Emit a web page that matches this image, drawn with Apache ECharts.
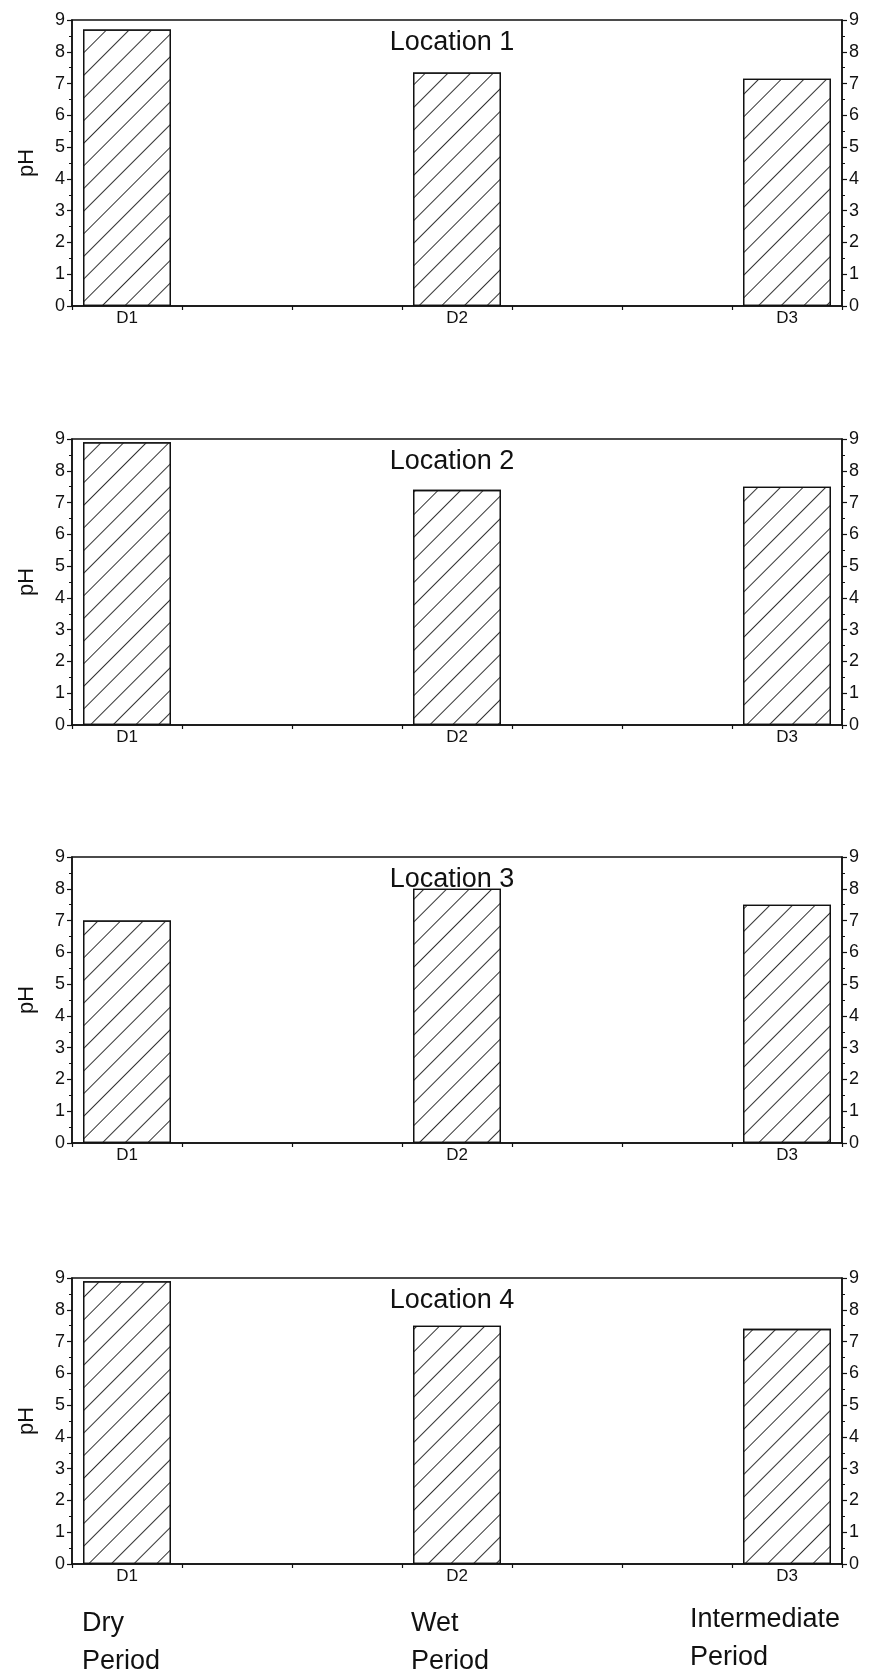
<!DOCTYPE html>
<html>
<head>
<meta charset="utf-8">
<script src="https://cdn.jsdelivr.net/npm/echarts@6/dist/echarts.min.js"></script>
<style>
  html, body { margin: 0; padding: 0; background: #fff; }
  #chart { width: 869px; height: 1677px; }
</style>
</head>
<body>
<div id="chart"></div>
<script>
// ---- data ----
var categories = ['D1', 'D2', 'D3'];
var locations = ['Location 1', 'Location 2', 'Location 3', 'Location 4'];
var loc1 = [8.7, 7.35, 7.15];
var loc2 = [8.9, 7.4, 7.5];
var loc3 = [7.0, 8.0, 7.5];
var loc4 = [8.9, 7.5, 7.4];
var yTicks = [0, 1, 2, 3, 4, 5, 6, 7, 8, 9];
var periodLabels = ['Dry\nPeriod', 'Wet\nPeriod', 'Intermediate\nPeriod'];
var yAxisName = 'pH';

var allValues = [loc1, loc2, loc3, loc4];

// ---- layout ----
var FONT = '"Liberation Sans", Arial, sans-serif';
var gridTops = [20, 439, 857, 1278];
var gridHeight = 286;
var gridLeft = 72, gridRight = 27;
var EMPTY_SLOTS = 2; // blank slots between displayed categories

// build x-axis slots from categories
var slotCats = [];
categories.forEach(function (c, i) {
  slotCats.push(c);
  if (i < categories.length - 1) for (var k = 0; k < EMPTY_SLOTS; k++) slotCats.push('');
});
function slotData(vals) {
  var out = [];
  vals.forEach(function (v, i) {
    out.push(v);
    if (i < vals.length - 1) for (var k = 0; k < EMPTY_SLOTS; k++) out.push(null);
  });
  return out;
}

var grids = [], xAxes = [], yAxes = [], series = [], graphics = [];
var LINE = '#111';

allValues.forEach(function (vals, i) {
  grids.push({
    left: gridLeft, right: gridRight, top: gridTops[i], height: gridHeight,
    show: true, borderColor: LINE, borderWidth: 1.5, backgroundColor: '#fff'
  });
  xAxes.push({
    type: 'category', gridIndex: i, data: slotCats,
    boundaryGap: true,
    axisLine: { show: true, lineStyle: { color: LINE, width: 1.5 } },
    axisTick: { show: true, interval: 0, length: 4, lineStyle: { color: LINE, width: 1.2 } },
    axisLabel: { interval: 0, color: '#111', fontFamily: FONT, fontSize: 17, margin: 4 },
    splitLine: { show: false }
  });
  var yBase = {
    type: 'value', gridIndex: i, min: yTicks[0], max: yTicks[yTicks.length - 1], interval: 1,
    axisLine: { show: true, lineStyle: { color: LINE, width: 1.5 } },
    axisTick: { show: true, length: 5, lineStyle: { color: LINE, width: 1.2 } },
    minorTick: { show: true, splitNumber: 2, length: 3, lineStyle: { color: LINE, width: 1 } },
    axisLabel: { color: '#111', fontFamily: FONT, fontSize: 18, margin: 7 },
    splitLine: { show: false }
  };
  yAxes.push(Object.assign({}, yBase, {
    position: 'left', name: yAxisName, nameLocation: 'middle', nameGap: 34,
    nameTextStyle: { fontFamily: FONT, fontSize: 22, color: '#111' }
  }));
  yAxes.push(Object.assign({}, yBase, { position: 'right' }));

  series.push({
    type: 'bar', xAxisIndex: i, yAxisIndex: 2 * i,
    data: slotData(vals), barWidth: '80%',
    itemStyle: {
      color: '#fff', borderColor: LINE, borderWidth: 1.3,
      decal: {
        symbol: 'rect', symbolSize: 1,
        dashArrayX: [1, 0], dashArrayY: [1, 15],
        rotation: -Math.PI / 4, color: '#333'
      }
    },
    silent: true, animation: false
  });

  graphics.push({
    type: 'text', x: 452, y: gridTops[i] + 23,
    style: {
      text: locations[i], fontFamily: FONT, fontSize: 27, fill: '#111',
      align: 'center', verticalAlign: 'middle'
    }
  });
});

var periodX = [82, 411, 690];
periodLabels.forEach(function (t, i) {
  graphics.push({
    type: 'text', x: periodX[i], y: 1605 - (i === 2 ? 4 : 0),
    style: {
      text: t, fontFamily: FONT, fontSize: 27, fill: '#111',
      lineHeight: 38, align: 'left', verticalAlign: 'top'
    }
  });
});

var chart = echarts.init(document.getElementById('chart'), null, { renderer: 'canvas' });
chart.setOption({
  backgroundColor: '#fff',
  animation: false,
  grid: grids,
  xAxis: xAxes,
  yAxis: yAxes,
  series: series,
  graphic: graphics
});
</script>
</body>
</html>
